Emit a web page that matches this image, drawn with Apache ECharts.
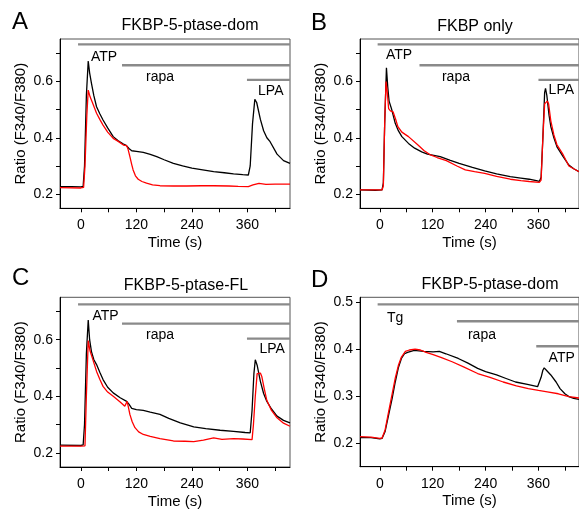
<!DOCTYPE html>
<html>
<head>
<meta charset="utf-8">
<script src="https://cdn.jsdelivr.net/npm/echarts@6/dist/echarts.min.js"></script>
<style>html,body{margin:0;padding:0;background:#fff}#c{width:579px;height:510px}</style>
</head>
<body>
<div id="c"></div>
<script>
// ---------- data ----------
const panelLetters = ['A', 'B', 'C', 'D'];
const panelTitles = ['FKBP-5-ptase-dom', 'FKBP only', 'FKBP-5-ptase-FL', 'FKBP-5-ptase-dom'];
const xTickValues = [0, 60, 120, 180, 240, 300, 360, 420];
const xLabelValues = [0, 120, 240, 360];
const yTicksABC = [0.2, 0.3, 0.4, 0.5, 0.6, 0.7];
const yLabelsABC = [0.2, 0.4, 0.6];
const yTicksD = [0.2, 0.3, 0.4, 0.5];
const yLabelsD = [0.2, 0.3, 0.4, 0.5];

// Panel A
const aBlackT = [-45,-20,0,5,8,12,16,19,23,28,34,41,48,58,70,80,92,98,104,110,120,135,150,164,180,200,220,240,260,287,310,330,350,362,366,371,376,380,388,395,402,409,424,438,452];
const aBlackV = [0.227,0.227,0.226,0.228,0.30,0.55,0.672,0.63,0.593,0.55,0.510,0.485,0.463,0.435,0.404,0.390,0.378,0.373,0.362,0.354,0.352,0.348,0.341,0.333,0.322,0.309,0.300,0.292,0.287,0.280,0.276,0.272,0.269,0.268,0.30,0.45,0.536,0.525,0.465,0.425,0.400,0.386,0.342,0.319,0.309];
const aRedT = [-45,0,6,9,13,16,20,25,34,41,48,58,70,80,92,99,102,106,110,113,118,124,132,142,155,171,200,229,260,287,320,340,362,372,385,400,420,452];
const aRedV = [0.223,0.222,0.224,0.30,0.48,0.569,0.545,0.525,0.487,0.465,0.445,0.420,0.398,0.388,0.374,0.372,0.360,0.333,0.305,0.286,0.265,0.253,0.245,0.239,0.233,0.230,0.229,0.229,0.230,0.230,0.229,0.228,0.227,0.233,0.238,0.235,0.236,0.236];
// Panel B
const bBlackT = [-45,-10,5,8,11,15,18,21,27,35,42,50,65,79,95,108,137,160,180,210,238,265,296,320,339,355,362,366,370,374,376,379,384,388,395,402,416,429,440,452];
const bBlackV = [0.215,0.214,0.215,0.24,0.45,0.648,0.58,0.53,0.50,0.451,0.425,0.404,0.380,0.363,0.350,0.342,0.333,0.320,0.309,0.295,0.283,0.272,0.262,0.257,0.253,0.248,0.245,0.26,0.40,0.56,0.575,0.55,0.48,0.44,0.40,0.368,0.333,0.303,0.29,0.28];
const bRedT = [-45,5,8,11,14,17,20,24,30,33,37,41,50,65,86,100,115,130,151,175,194,215,238,265,296,320,339,362,366,370,374,380,383,388,395,402,416,429,440,452];
const bRedV = [0.215,0.215,0.23,0.45,0.599,0.56,0.503,0.495,0.492,0.488,0.46,0.439,0.420,0.404,0.375,0.355,0.339,0.330,0.319,0.300,0.286,0.280,0.274,0.263,0.253,0.248,0.245,0.242,0.25,0.40,0.52,0.53,0.52,0.46,0.41,0.375,0.34,0.300,0.29,0.28];
// Panel C
const cBlackT = [-45,0,5,8,12,16,19,23,28,34,41,48,58,70,85,99,104,110,120,135,150,171,190,215,244,270,301,330,355,366,370,374,377,381,388,395,402,412,424,438,452];
const cBlackV = [0.227,0.226,0.228,0.30,0.55,0.670,0.60,0.558,0.530,0.512,0.485,0.459,0.432,0.412,0.395,0.382,0.372,0.357,0.353,0.350,0.344,0.336,0.322,0.306,0.292,0.286,0.280,0.276,0.272,0.271,0.35,0.48,0.529,0.51,0.453,0.41,0.382,0.355,0.330,0.315,0.306];
const cRedT = [-45,0,9,12,16,20,25,34,41,48,58,70,85,95,98,100,103,106,111,117,125,135,150,171,200,225,244,265,287,305,330,350,370,373,377,381,384,388,391,396,402,412,424,438,452];
const cRedV = [0.224,0.224,0.225,0.40,0.597,0.56,0.535,0.488,0.46,0.435,0.415,0.400,0.380,0.365,0.368,0.382,0.36,0.336,0.31,0.289,0.274,0.265,0.258,0.250,0.242,0.241,0.240,0.245,0.253,0.248,0.250,0.249,0.247,0.30,0.40,0.480,0.486,0.482,0.47,0.43,0.385,0.350,0.324,0.305,0.294];
// Panel D
const dBlackT = [-45,-20,0,5,12,20,28,35,42,49,56,63,78,100,121,135,150,178,200,222,240,265,285,308,335,358,362,366,370,373,378,388,400,409,420,429,440,452];
const dBlackV = [0.212,0.212,0.209,0.210,0.225,0.260,0.295,0.330,0.360,0.380,0.390,0.393,0.397,0.395,0.394,0.395,0.390,0.380,0.370,0.359,0.352,0.345,0.338,0.330,0.325,0.320,0.322,0.34,0.355,0.360,0.355,0.345,0.330,0.316,0.305,0.299,0.295,0.293];
const dRedT = [-45,-20,0,5,12,20,28,35,42,49,58,67,80,92,105,121,140,164,190,222,250,280,310,337,360,380,405,429,452];
const dRedV = [0.214,0.213,0.210,0.211,0.228,0.267,0.305,0.338,0.365,0.383,0.395,0.398,0.400,0.398,0.393,0.388,0.382,0.373,0.362,0.348,0.340,0.330,0.322,0.316,0.312,0.309,0.305,0.299,0.296];

// treatment bars: start time and level, per panel
const barStartA = [-6, 89, 359];  const barLevelA = [0.731, 0.657, 0.605];
const barStartB = [-5, 90, 360];  const barLevelB = [0.731, 0.657, 0.605];
const barStartC = [-6, 89, 359];  const barLevelC = [0.725, 0.657, 0.604];
const barStartD = [-5, 175, 355]; const barLevelD = [0.495, 0.459, 0.406];
// treatment labels
const labelTextA = ['ATP', 'rapa', 'LPA']; const labelTA = [22, 141, 383]; const labelVA = [0.686, 0.615, 0.565];
const labelTextB = ['ATP', 'rapa', 'LPA']; const labelTB = [14, 141, 383]; const labelVB = [0.693, 0.615, 0.567];
const labelTextC = ['ATP', 'rapa', 'LPA']; const labelTC = [25, 141, 386]; const labelVC = [0.682, 0.615, 0.567];
const labelTextD = ['Tg', 'rapa', 'ATP'];  const labelTD = [16, 200, 383]; const labelVD = [0.466, 0.430, 0.380];

// ---------- build ----------
const X_MIN = -45, X_MAX = 452;
const FONT = "'Liberation Sans', Arial, Helvetica, sans-serif";
const pair = (ts, vs) => ts.map((t, i) => [t, vs[i]]);

const grids = [
  {left: 60, top: 39, width: 230, height: 169.3},
  {left: 360, top: 39, width: 229.7, height: 169.3},
  {left: 60, top: 297.3, width: 230, height: 170.4},
  {left: 360, top: 297.3, width: 229.7, height: 169.4}
].map(g => Object.assign(g, {show: true, borderColor: '#555', borderWidth: 1, backgroundColor: 'transparent', containLabel: false}));

const yRanges = [[0.15, 0.75], [0.15, 0.75], [0.15, 0.75], [0.15, 0.51]];
const yTicks = [yTicksABC, yTicksABC, yTicksABC, yTicksD];
const yLabels = [yLabelsABC, yLabelsABC, yLabelsABC, yLabelsD];

const xAxes = [0,1,2,3].map(i => ({
  type: 'value', gridIndex: i, min: X_MIN, max: X_MAX,
  axisLine: {show: true, onZero: false, lineStyle: {color: '#000', width: 1}},
  axisTick: {show: true, inside: false, length: 4, customValues: xTickValues, lineStyle: {color: '#000'}},
  axisLabel: {show: true, customValues: xLabelValues, color: '#000', fontSize: 14, fontFamily: FONT, margin: 10},
  splitLine: {show: false},
  name: 'Time (s)', nameLocation: 'middle', nameGap: 27,
  nameTextStyle: {color: '#000', fontSize: 15, fontFamily: FONT}
}));
const yAxes = [0,1,2,3].map(i => ({
  type: 'value', gridIndex: i, min: yRanges[i][0], max: yRanges[i][1],
  axisLine: {show: true, onZero: false, lineStyle: {color: '#000', width: 1}},
  axisTick: {show: true, inside: false, length: 4, customValues: yTicks[i], lineStyle: {color: '#000'}},
  axisLabel: {show: true, customValues: yLabels[i], color: '#000', fontSize: 14, fontFamily: FONT, margin: 7,
              formatter: v => Number(v).toFixed(1)},
  splitLine: {show: false},
  name: 'Ratio (F340/F380)', nameLocation: 'middle', nameGap: 32,
  nameTextStyle: {color: '#000', fontSize: 15, fontFamily: FONT}
}));

const curves = [
  [pair(aBlackT, aBlackV), pair(aRedT, aRedV)],
  [pair(bBlackT, bBlackV), pair(bRedT, bRedV)],
  [pair(cBlackT, cBlackV), pair(cRedT, cRedV)],
  [pair(dBlackT, dBlackV), pair(dRedT, dRedV)]
];
const barStarts = [barStartA, barStartB, barStartC, barStartD];
const barLevels = [barLevelA, barLevelB, barLevelC, barLevelD];
const labelTexts = [labelTextA, labelTextB, labelTextC, labelTextD];
const labelTs = [labelTA, labelTB, labelTC, labelTD];
const labelVs = [labelVA, labelVB, labelVC, labelVD];

const series = [];
for (let i = 0; i < 4; i++) {
  for (let b = 0; b < 3; b++) {
    series.push({
      type: 'line', xAxisIndex: i, yAxisIndex: i, silent: true, symbol: 'none', animation: false,
      data: [[barStarts[i][b], barLevels[i][b]], [X_MAX, barLevels[i][b]]],
      lineStyle: {color: '#8a8a8a', width: 2.4}
    });
  }
  series.push({
    type: 'scatter', xAxisIndex: i, yAxisIndex: i, silent: true, symbolSize: 0, animation: false,
    itemStyle: {opacity: 1},
    data: labelTexts[i].map((s, k) => [labelTs[i][k], labelVs[i][k], s]),
    label: {show: true, position: [0, 0], align: 'left', verticalAlign: 'middle', opacity: 1,
            formatter: p => p.data[2], color: '#000', fontSize: 14, fontFamily: FONT}
  });
  series.push({
    type: 'line', xAxisIndex: i, yAxisIndex: i, symbol: 'none', animation: false,
    data: curves[i][0], lineStyle: {color: '#000', width: 1.3}
  });
  series.push({
    type: 'line', xAxisIndex: i, yAxisIndex: i, symbol: 'none', animation: false,
    data: curves[i][1], lineStyle: {color: '#ff0000', width: 1.3}
  });
}

const letterPos = [[12, 22], [311, 23], [12, 278], [311, 280]];
const titlePos = [[190, 26], [475, 27], [186, 286], [490, 285]];
const graphic = [];
for (let i = 0; i < 4; i++) {
  graphic.push({type: 'text', x: letterPos[i][0], y: letterPos[i][1],
    style: {text: panelLetters[i], fill: '#000', font: '24px ' + FONT, textAlign: 'left', textVerticalAlign: 'middle'}});
  graphic.push({type: 'text', x: titlePos[i][0], y: titlePos[i][1],
    style: {text: panelTitles[i], fill: '#000', font: '16px ' + FONT, textAlign: 'center', textVerticalAlign: 'middle'}});
}

const chart = echarts.init(document.getElementById('c'), null, {renderer: 'canvas'});
chart.setOption({
  animation: false,
  backgroundColor: '#fff',
  grid: grids,
  xAxis: xAxes,
  yAxis: yAxes,
  series: series,
  graphic: graphic
});
</script>
</body>
</html>
